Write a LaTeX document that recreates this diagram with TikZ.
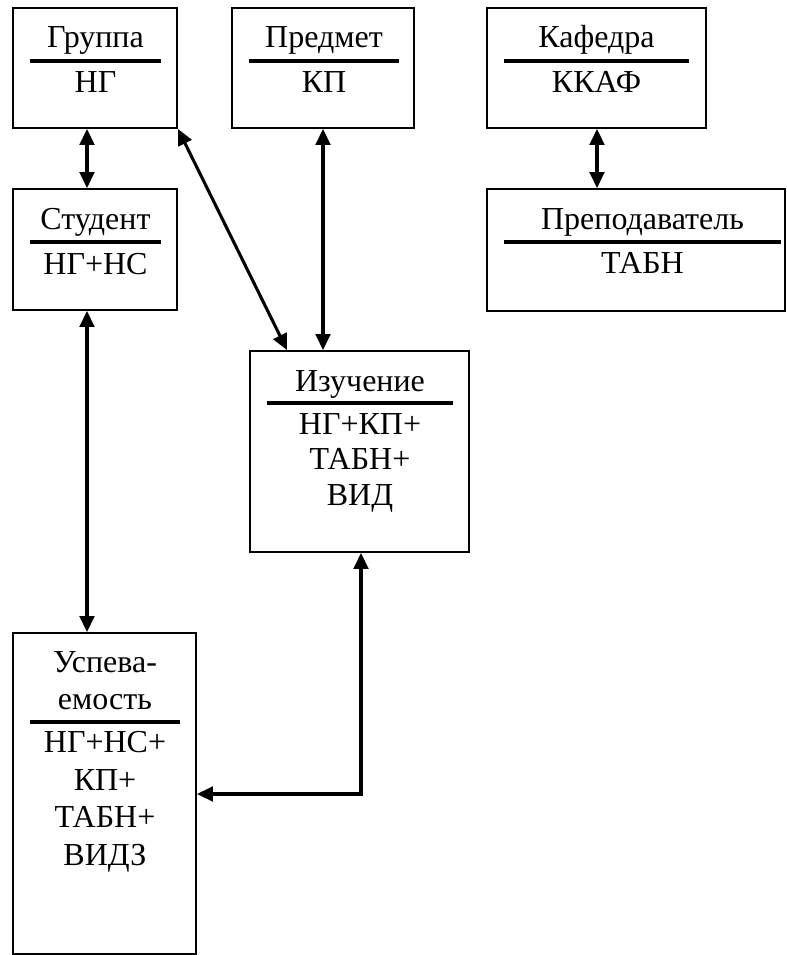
\documentclass[tikz,border=0pt]{standalone}
\usepackage{fontspec}
\setmainfont{Liberation Serif}
\usetikzlibrary{arrows.meta,fit}
\begin{document}
\begin{tikzpicture}[x=0.75pt,y=-0.75pt,
  box/.style={draw, line width=1.4pt, inner sep=0pt, rectangle},
  txt/.style={anchor=base, inner sep=0pt, font=\fontsize{24}{27}\selectfont},
  rulebar/.style={line width=3pt},
  arr/.style={line width=2.3pt, {Triangle[length=12pt,width=11pt]}-{Triangle[length=12pt,width=11pt]}}]
\useasboundingbox (0,0) rectangle (786,955);
\fill[white] (0,0) rectangle (786,955);
% boxes
\node[box, fit={(13,8) (177,128)}] (grp) {};
\node[box, fit={(232,8) (414,128)}] (pred) {};
\node[box, fit={(487,8) (706,128)}] (kaf) {};
\node[box, fit={(13,189) (177,310)}] (stu) {};
\node[box, fit={(487,189) (785,311)}] (prep) {};
\node[box, fit={(250,351) (469,552)}] (izu) {};
\node[box, fit={(13,633) (196,954)}] (usp) {};
% Группа
\node[txt] (grpT) at (95.5,48) {Группа};
\draw[rulebar] (30,61) -- (161,61);
\node[txt] (grpK) at (95.5,93) {НГ};
% Предмет
\node[txt] (predT) at (324,48) {Предмет};
\draw[rulebar] (249,61) -- (399,61);
\node[txt] (predK) at (324,93) {КП};
% Кафедра
\node[txt] (kafT) at (596.5,48) {Кафедра};
\draw[rulebar] (504,61) -- (689,61);
\node[txt] (kafK) at (596.5,93) {ККАФ};
% Студент
\node[txt] (stuT) at (95.5,230) {Студент};
\draw[rulebar] (30,242) -- (161,242);
\node[txt] (stuK) at (95.5,275) {НГ+НС};
% Преподаватель
\node[txt] (prepT) at (642.5,230) {Преподаватель};
\draw[rulebar] (504,242) -- (781,242);
\node[txt] (prepK) at (642.5,274) {ТАБН};
% Изучение
\node[txt] (izuT) at (360,391) {Изучение};
\draw[rulebar] (267,403) -- (453,403);
\node[txt] (izuK1) at (360,434) {НГ+КП+};
\node[txt] (izuK2) at (360,469) {ТАБН+};
\node[txt] (izuK3) at (360,505) {ВИД};
% Успеваемость
\node[txt] (uspT1) at (105,672) {Успева-};
\node[txt] (uspT2) at (105,709) {емость};
\draw[rulebar] (30,722) -- (180,722);
\node[txt] (uspK1) at (105,752) {НГ+НС+};
\node[txt] (uspK2) at (105,790) {КП+};
\node[txt] (uspK3) at (105,827) {ТАБН+};
\node[txt] (uspK4) at (105,865) {ВИДЗ};
% connector positions
\coordinate (xa) at (87,0);
\coordinate (xb) at (287,0);
\coordinate (xc) at (323,0);
\coordinate (xd) at (597,0);
\coordinate (xe) at (361,794);
% connectors
\draw[arr] (grp.south -| xa) -- (stu.north -| xa);
\draw[arr] (stu.south -| xa) -- (usp.north -| xa);
\draw[arr] (grp.south east) -- (izu.north -| xb);
\draw[arr] (pred.south -| xc) -- (izu.north -| xc);
\draw[arr] (kaf.south -| xd) -- (prep.north -| xd);
\draw[arr] (izu.south -| xe) |- (usp.east |- xe);
\end{tikzpicture}
\end{document}
